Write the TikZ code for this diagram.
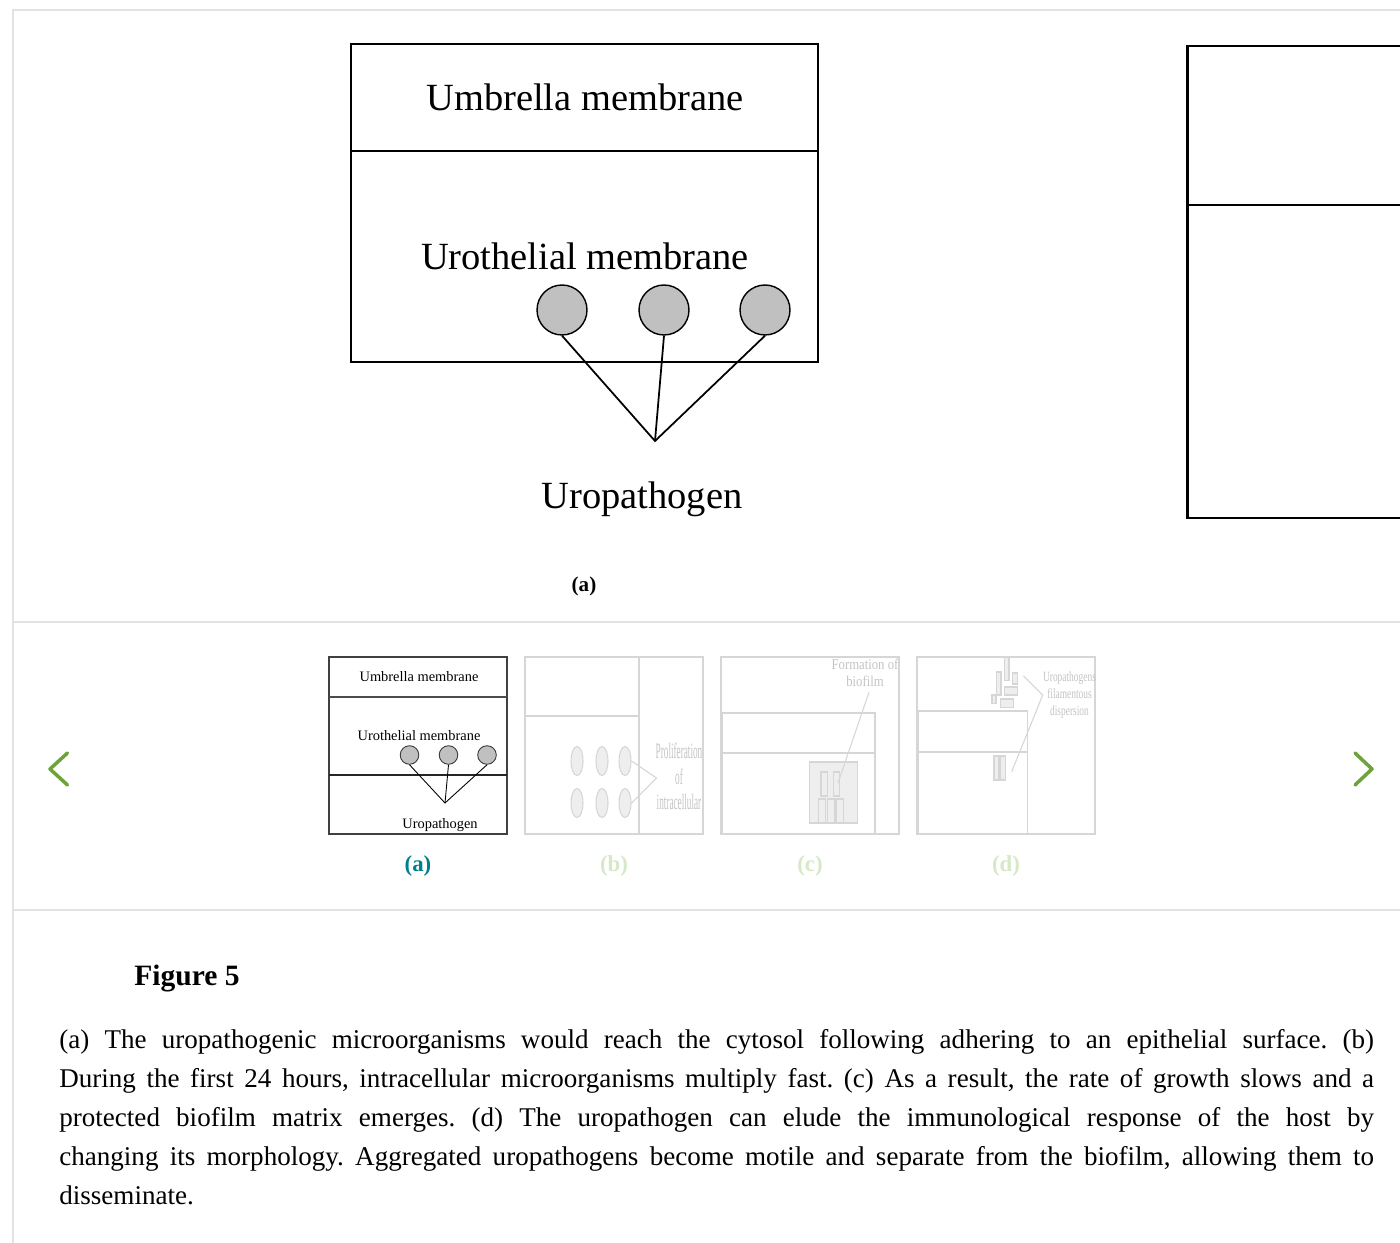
\documentclass[tikz,border=0pt]{standalone}
\usepackage{fontspec}
\setmainfont{Liberation Serif}
\usetikzlibrary{shapes.geometric}
\frenchspacing

\definecolor{rulegray}{HTML}{E2E2E2}
\definecolor{cellgray}{HTML}{C0C0C0}
\definecolor{fadeline}{HTML}{D6D6D6}
\definecolor{fadefill}{HTML}{EEEEEE}
\definecolor{fadetext}{HTML}{C4C4C4}
\definecolor{navgreen}{HTML}{6CA33B}
\definecolor{tabteal}{HTML}{00808C}
\definecolor{tabpale}{HTML}{D6E8C6}

\begin{document}
\begin{tikzpicture}[x=0.02cm,y=-0.02cm,
    rule/.style={draw=rulegray,line width=1.2pt},
    membrane/.style={draw=black,line width=1.15pt},
    cell/.style={circle,draw=black,line width=0.8pt,fill=cellgray,minimum size=1cm,inner sep=0pt},
    bigtext/.style={font=\fontsize{21.9}{26}\selectfont,inner sep=0pt,anchor=base},
    smalltext/.style={font=\fontsize{8.2}{10}\selectfont,inner sep=0pt,anchor=base},
    thumbcell/.style={circle,draw=black!80,line width=0.5pt,fill=cellgray,minimum size=0.372cm,inner sep=0pt},
    fade/.style={draw=fadeline,line width=0.6pt},
    fadebox/.style={draw=fadeline,line width=0.6pt,fill=fadefill},
    fadecell/.style={ellipse,draw=fadeline,line width=0.6pt,fill=fadefill,minimum width=0.24cm,minimum height=0.58cm,inner sep=0pt},
    tablabel/.style={font=\bfseries\fontsize{13}{15}\selectfont,inner sep=0pt},
    nav/.style={draw=navgreen,line width=2pt,line cap=round,line join=round}
  ]
  \useasboundingbox (0,0) rectangle (1400,1243);
  \clip (0,0) rectangle (1400,1243);
  \fill[white] (0,0) rectangle (1400,1243);

  % page rules
  \draw[rule] (13,1243) -- (13,10) -- (1400,10);
  \draw[rule] (13,622) -- (1400,622);
  \draw[rule] (13,910) -- (1400,910);

  % figure (a)
  \draw[membrane] (351,44) rectangle (818,362);
  \draw[membrane] (351,151) -- (818,151);
  \node[bigtext] (umbrella) at (585,111) {Umbrella membrane};
  \node[bigtext] (urothelial) at (585,270) {Urothelial membrane};
  \node[cell] (cellA) at (562,310) {};
  \node[cell] (cellB) at (664,310) {};
  \node[cell] (cellC) at (765,310) {};
  \coordinate (meet) at (655,441);
  \draw[line width=1pt] (cellA.south) -- (meet) -- (cellC.south);
  \draw[line width=1pt] (cellB.south) -- (meet);
  \node[bigtext] (uropath) at (642,508) {Uropathogen};
  \node[font=\bfseries\fontsize{12}{14}\selectfont,inner sep=0pt,anchor=base] (panelA) at (584,591) {(a)};

  % next figure, cut at the edge
  \draw[line width=1.7pt] (1187,46) rectangle (1430,518);
  \draw[line width=1.7pt] (1187,205) -- (1430,205);

  % thumbnail (a)
  \draw[draw=black!75,line width=0.8pt] (329,657) rectangle (507,834);
  \draw[draw=black!70,line width=0.7pt] (329,697) -- (507,697);
  \draw[draw=black!85,line width=0.8pt] (329,775) -- (507,775);
  \node[smalltext] (tUmbrella) at (419,681.5) {Umbrella membrane};
  \node[smalltext] (tUrothelial) at (419,740) {Urothelial membrane};
  \node[thumbcell] (tcellA) at (409.5,755) {};
  \node[thumbcell] (tcellB) at (448.5,755) {};
  \node[thumbcell] (tcellC) at (487,755) {};
  \coordinate (tmeet) at (445,803);
  \draw[line width=0.5pt] (tcellA.south) -- (tmeet) -- (tcellC.south);
  \draw[line width=0.5pt] (tcellB.south) -- (tmeet);
  \node[smalltext] (tUropath) at (440,828) {Uropathogen};

  % faded thumbnails
  \foreach \x in {525,721,917}
    \draw[fade] (\x,657) rectangle ++(178,177);

  % thumbnail (b)
  \draw[fade] (639,657) -- (639,834);
  \draw[fade] (525,716) -- (639,716);
  \foreach \x/\n in {577/1,602/2,625/3} {
    \node[fadecell] (bUp\n) at (\x,761) {};
    \node[fadecell] (bLow\n) at (\x,803) {};
  }
  \coordinate (bmeet) at (656.5,778);
  \draw[fade] (bUp3.east) -- (bmeet) -- (bLow3.east);
  \node[font=\fontsize{12.5}{14.7}\selectfont,text=fadetext,inner sep=0pt] (bLabel) at (679,779)
    {\scalebox{0.42}[1]{\begin{tabular}{@{}c@{}}Proliferation\\of\\intracellular\end{tabular}}};

  % thumbnail (c)
  \draw[fade] (722,713) rectangle (875,834);
  \draw[fade] (722,753) -- (875,753);
  \draw[fadebox] (809.5,762) rectangle (857.5,823);
  \draw[fadebox] (821,772) rectangle (827.3,796);
  \draw[fadebox] (833.3,772) rectangle (839.7,796);
  \draw[fadebox] (818.7,799) rectangle (825.3,823);
  \draw[fadebox] (827.3,799) rectangle (834.7,823);
  \draw[fadebox] (836,799) rectangle (843.3,823);
  \node[font=\fontsize{8.5}{9.6}\selectfont,text=fadetext,inner sep=0pt] (cLabel) at (865,675)
    {\scalebox{0.85}[1]{\begin{tabular}{@{}c@{}}Formation of\\biofilm\end{tabular}}};
  \coordinate (cEnd) at (838,783);
  \draw[fade] ([xshift=0.08cm]cLabel.south) -- (cEnd);

  % thumbnail (d)
  \draw[fade] (918,711) rectangle (1027.7,834);
  \draw[fade] (918,752) -- (1027.7,752);
  \draw[fadebox] (1004.3,657.7) rectangle (1009,680.7);
  \draw[fadebox] (996.7,672) rectangle (1001,695);
  \draw[fadebox] (1012.7,673) rectangle (1017.3,684);
  \draw[fadebox] (1004.3,687) rectangle (1017.3,695);
  \draw[fadebox] (992,695) rectangle (996,703.7);
  \draw[fadebox] (1000.3,699) rectangle (1013.3,707.3);
  \draw[fadebox] (994,756) rectangle (998.7,780);
  \draw[fadebox] (1000,756) rectangle (1005.3,780);
  \node[font=\fontsize{8}{9.9}\selectfont,text=fadetext,inner sep=0pt] (dLabel) at (1069.5,695)
    {\scalebox{0.67}[1]{\begin{tabular}{@{}c@{}}Uropathogens\\filamentous\\dispersion\end{tabular}}};
  \coordinate (dTop) at (1023.3,675.7);
  \coordinate (dEnd) at (1011.7,771.7);
  \draw[fade] (dTop) -- (dLabel.west) -- (dEnd);

  % tab labels
  \node[tablabel,text=tabteal] (tabA) at (418,866) {(a)};
  \foreach \x/\l in {614/b,810/c,1006/d}
    \node[tablabel,text=tabpale] (tab\l) at (\x,866) {(\l)};

  % navigation
  \draw[nav] (67.5,753) -- (50,769) -- (67.5,785);
  \draw[nav] (1355,753) -- (1372,769) -- (1355,785);

  % caption
  \node[anchor=base west,inner sep=0pt,font=\bfseries\fontsize{16.8}{20}\selectfont] (figTitle) at (134,985) {Figure 5};
  \node[anchor=north west,inner sep=0pt,text width=26.3cm,align=justify,font=\fontsize{15.4}{22.1}\selectfont] (caption) at (59,1029.5)
    {(a) The uropathogenic microorganisms would reach the cytosol following adhering to an epithelial surface. (b)\linebreak
     During the first 24 hours, intracellular microorganisms multiply fast. (c) As a result, the rate of growth slows and a\linebreak
     protected biofilm matrix emerges. (d) The uropathogen can elude the immunological response of the host by\linebreak
     changing its morphology. Aggregated uropathogens become motile and separate from the biofilm, allowing them to\linebreak
     disseminate.};
\end{tikzpicture}
\end{document}
